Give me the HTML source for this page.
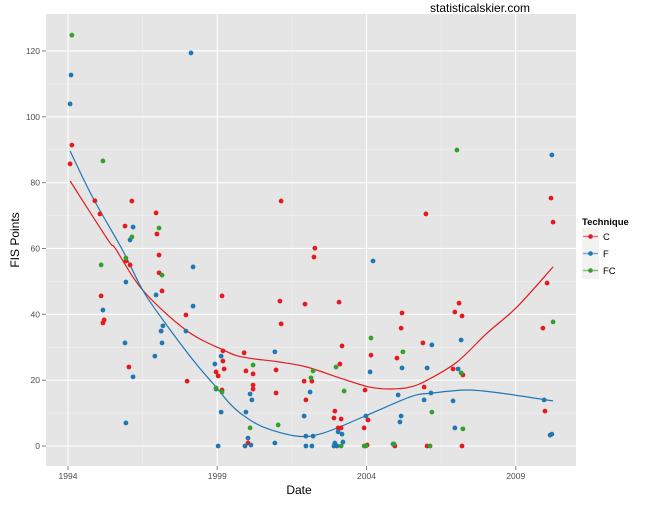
<!DOCTYPE html>
<html><head><meta charset="utf-8"><style>
body{margin:0;background:#fff;font-family:"Liberation Sans",sans-serif}
svg text{font-family:"Liberation Sans",sans-serif}
</style></head><body>
<svg id="chart" width="648" height="504" viewBox="0 0 648 504" xmlns="http://www.w3.org/2000/svg">
<text x="430" y="12" font-size="12" fill="#000">statisticalskier.com</text>
<rect x="46" y="14" width="530" height="452" fill="#e5e5e5"/>
<g id="grid"></g><g id="curves"></g><g id="points"></g><g id="axes"></g>
<text x="299" y="494" font-size="12" text-anchor="middle">Date</text>
<text transform="translate(19,240) rotate(-90)" font-size="12" text-anchor="middle">FIS Points</text>
<g>
<text x="582" y="225" font-size="9.5" font-weight="bold">Technique</text>
<g><rect x="582" y="228" width="17" height="17" fill="#f2f2f2"/><line x1="583" y1="236.5" x2="598" y2="236.5" stroke="#e41a1c" stroke-opacity="0.6" stroke-width="1.5"/><circle cx="590.5" cy="236.5" r="2.3" fill="#e41a1c"/><text x="603" y="240" font-size="9.5">C</text></g>
<g><rect x="582" y="245" width="17" height="17" fill="#f2f2f2"/><line x1="583" y1="253.5" x2="598" y2="253.5" stroke="#1f78b4" stroke-opacity="0.6" stroke-width="1.5"/><circle cx="590.5" cy="253.5" r="2.3" fill="#1f78b4"/><text x="603" y="257" font-size="9.5">F</text></g>
<g><rect x="582" y="262" width="17" height="17" fill="#f2f2f2"/><line x1="583" y1="270.5" x2="598" y2="270.5" stroke="#33a02c" stroke-opacity="0.6" stroke-width="1.5"/><circle cx="590.5" cy="270.5" r="2.3" fill="#33a02c"/><text x="603" y="274" font-size="9.5">FC</text></g>
</g>
</svg>
<script>
const xTicks=[1994,1999,2004,2009];
const yTicks=[0,20,40,60,80,100,120];
const cYear=[1994.13,1994.07,1994.90,1996.14,1995.07,1996.95,1995.91,1996.98,1995.94,1996.08,1997.05,1997.05,1997.15,1995.11,1995.21,1995.17,1997.95,1999.16,1997.12,1999.19,1999.19,1999.23,1998.96,1999.03,1996.04,1997.99,1999.16,2001.14,2002.27,2002.24,2001.10,2001.94,2003.08,2001.14,2005.19,2005.16,2003.18,1999.90,1999.96,2000.20,2000.97,2003.11,2004.15,2005.02,2001.91,2002.17,2000.20,2000.20,2000.97,2003.95,2001.97,2002.94,2002.91,2003.15,2004.05,2003.05,2003.15,2003.92,2000.03,2004.02,2004.95,2010.18,2010.25,2005.99,2010.05,2007.10,2006.96,2007.20,2009.91,2005.89,2006.90,2007.23,2005.93,2009.98,2006.03,2007.20];
const cPts=[91.4,85.7,74.5,74.4,70.5,70.8,66.8,64.4,56.2,55.0,58.0,52.6,47.1,45.6,38.3,37.4,39.8,45.6,34.9,28.9,25.8,23.4,22.5,21.3,24.0,19.7,17.0,74.4,60.1,57.4,44.0,43.1,43.7,37.1,40.4,35.8,30.4,28.3,22.8,21.9,23.1,24.9,27.6,26.7,19.7,19.7,18.5,17.3,16.1,17.0,14.0,10.6,8.5,8.2,7.9,5.5,5.5,5.5,0.9,0.3,0,75.3,68.0,70.5,49.5,43.4,40.7,39.5,35.8,31.3,23.4,21.6,17.9,10.6,0,0];
const fYear=[1994.10,1994.07,1998.12,1996.18,1996.08,1998.19,1995.94,1996.95,1995.17,1998.19,1997.18,1997.12,1997.95,1995.91,1997.15,1999.13,1996.91,1998.92,1996.18,1998.96,1999.13,1995.94,1999.03,2004.22,2000.93,2005.19,2004.12,2000.10,2002.11,2005.06,2000.16,1999.96,2001.91,2003.98,2005.16,2005.12,2003.05,2003.18,2001.97,2002.21,2000.03,2000.93,2002.94,2003.21,1999.93,2000.13,2001.97,2002.17,2002.91,2003.01,2004.89,2010.21,2006.19,2007.17,2006.03,2007.07,2006.16,2005.93,2006.90,2009.95,2006.96,2010.15,2010.21];
const fPts=[112.7,103.9,119.4,66.5,62.6,54.4,49.8,45.9,41.3,42.5,36.5,34.9,34.9,31.3,31.3,27.3,27.3,24.9,21.0,17.3,10.3,7.0,0,56.2,28.6,23.7,22.5,15.8,16.4,15.5,14.0,10.3,9.1,9.1,9.1,7.3,4.3,3.6,3.0,3.0,2.4,0.9,0.9,1.2,0,0.3,0,0,0,0,0.6,88.4,30.7,32.2,23.7,23.4,16.1,14.0,13.7,14.0,5.5,3.3,3.6];
const fcYear=[1994.13,1995.17,1997.05,1996.14,1995.94,1995.11,1997.15,1998.96,1999.16,2004.15,2005.22,2000.20,2002.98,2002.21,2002.14,2003.25,2000.10,2001.04,2003.15,2003.92,2003.98,2004.92,2007.03,2010.25,2007.17,2006.19,2007.23,2006.13];
const fcPts=[124.8,86.6,66.2,63.5,57.1,55.0,51.9,17.6,16.4,32.8,28.6,24.6,24.0,22.8,20.7,16.7,5.5,6.4,0,0,0,0.6,89.9,37.7,22.2,10.3,5.2,0];
const cFitYear=[1994.07,1995.34,1995.6,1996.5,1997.95,1999.2,1999.86,2001.1,2002.0,2003.1,2004.1,2004.8,2005.46,2006.03,2007.03,2008.04,2009.04,2010.25];
const cFit=[80.5,62.6,59.8,47.4,35.2,29.2,27.0,25.5,24.0,20.7,17.9,17.3,17.9,20.0,25.5,34.3,42.2,54.4];
const fFitYear=[1994.07,1994.84,1995.81,1996.5,1997.18,1998.19,1998.96,1999.43,1999.86,2000.53,2001.67,2002.54,2003.88,2005.46,2006.23,2007.37,2008.47,2010.25];
const fFit=[89.6,75.3,59.8,47.4,38.3,26.1,17.9,12.8,9.4,5.8,3.0,3.9,8.8,14.9,16.1,17.0,16.1,13.7];

const NS="http://www.w3.org/2000/svg";
const X=y=>68+(y-1994)*29.85;
const Y=v=>446-v*3.292;
function mk(tag,attrs,parent){const e=document.createElementNS(NS,tag);for(const k in attrs)e.setAttribute(k,attrs[k]);parent.appendChild(e);return e;}
const grid=document.getElementById('grid'),axes=document.getElementById('axes');
for(let i=0;i<yTicks.length;i++){
  const v=yTicks[i];
  let l=mk('line',{x1:46,x2:576,y1:Y(v),y2:Y(v),stroke:'#fff','stroke-width':1.1},grid);
  
  
  if(i<yTicks.length-1){const m=(v+yTicks[i+1])/2;let lm=mk('line',{x1:46,x2:576,y1:Y(m),y2:Y(m),stroke:'#f2f2f2','stroke-width':0.5},grid);
  
  }
  let t=mk('text',{x:40,y:Y(v)+3,'font-size':8.5,fill:'#4d4d4d','text-anchor':'end'},axes);t.textContent=v;
  
  
  mk('line',{x1:42,x2:46,y1:Y(v),y2:Y(v),stroke:'#7f7f7f'},axes);
}
for(let i=0;i<xTicks.length;i++){
  const v=xTicks[i];
  let l=mk('line',{y1:14,y2:466,x1:X(v),x2:X(v),stroke:'#fff','stroke-width':1.1},grid);
  
  
  if(i<xTicks.length-1){const m=v+2.5;let lm=mk('line',{y1:14,y2:466,x1:X(m),x2:X(m),stroke:'#f2f2f2','stroke-width':0.5},grid);
  
  }
  let t=mk('text',{x:X(v),y:479,'font-size':8.5,fill:'#4d4d4d','text-anchor':'middle'},axes);t.textContent=v;
  
  
  mk('line',{y1:466,y2:470,x1:X(v),x2:X(v),stroke:'#7f7f7f'},axes);
}
const curves=document.getElementById('curves');
function fit(xs,vs,col,name){
  const p=xs.map((x,i)=>[X(x),Y(vs[i])]);
  let d='M'+p[0][0].toFixed(1)+','+p[0][1].toFixed(1);
  for(let i=0;i<p.length-1;i++){
    const p0=p[Math.max(0,i-1)],p1=p[i],p2=p[i+1],p3=p[Math.min(p.length-1,i+2)];
    const c1x=p1[0]+(p2[0]-p0[0])/6,c1y=p1[1]+(p2[1]-p0[1])/6;
    const c2x=p2[0]-(p3[0]-p1[0])/6,c2y=p2[1]-(p3[1]-p1[1])/6;
    d+='C'+c1x.toFixed(1)+','+c1y.toFixed(1)+' '+c2x.toFixed(1)+','+c2y.toFixed(1)+' '+p2[0].toFixed(1)+','+p2[1].toFixed(1);
  }
  const el=mk('path',{d:d,fill:'none',stroke:col,'stroke-width':1.2},curves);
  
  
}
fit(cFitYear,cFit,'#e41a1c','smooth-c');
fit(fFitYear,fFit,'#1f78b4','smooth-f');
const pts=document.getElementById('points');
function scatter(xs,vs,col,name){
  for(let i=0;i<xs.length;i++){
    const c=mk('circle',{cx:X(xs[i]),cy:Y(vs[i]),r:2.4,fill:col},pts);
    
    
  }
}
scatter(cYear,cPts,'#e41a1c','point-c');
scatter(fYear,fPts,'#1f78b4','point-f');
scatter(fcYear,fcPts,'#33a02c','point-fc');
</script>
</body></html>
